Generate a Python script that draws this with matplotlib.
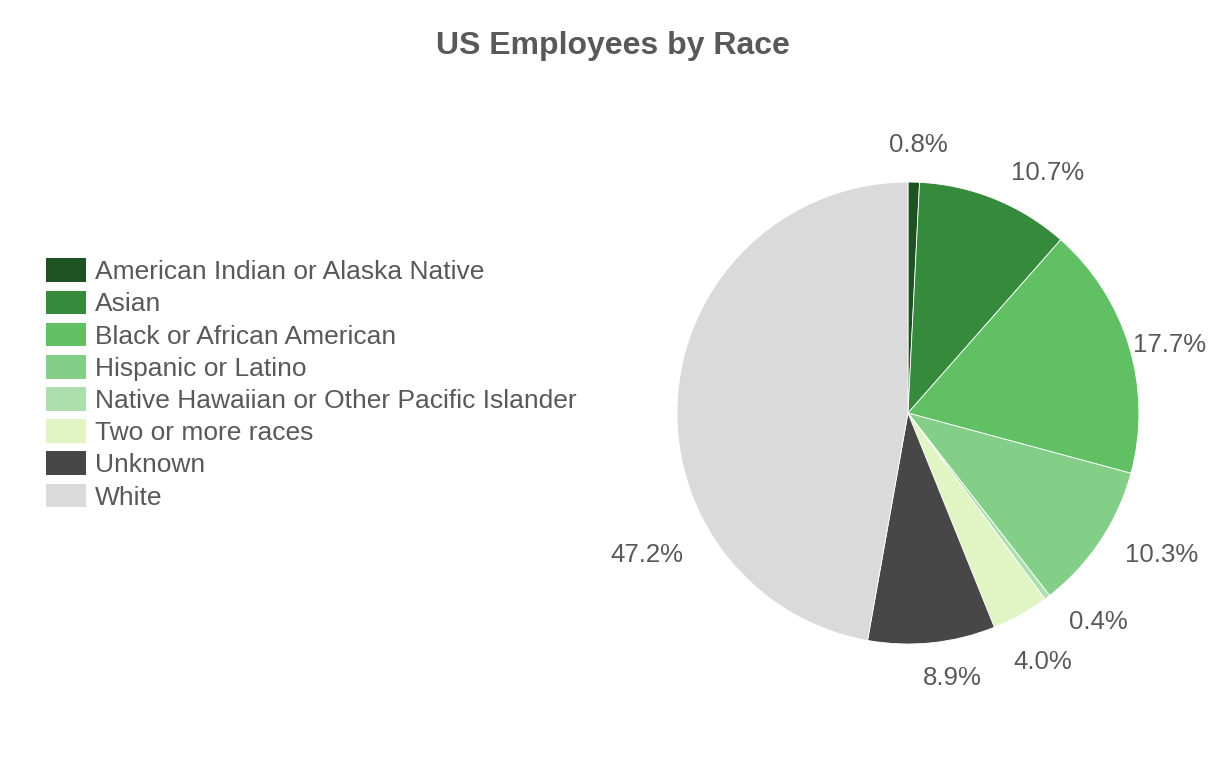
import numpy as np
import matplotlib as mpl
import matplotlib.pyplot as plt

# data
races = ['American Indian or Alaska Native', 'Asian', 'Black or African American',
         'Hispanic or Latino', 'Native Hawaiian or Other Pacific Islander',
         'Two or more races', 'Unknown', 'White']
shares = [0.8, 10.7, 17.7, 10.3, 0.4, 4.0, 8.9, 47.2]
colors = ['#1f5223', '#358a3c', '#61c064', '#84cf88', '#acdfac', '#e0f4c4', '#474747', '#dadada']

# label positions (pie radius units), Google-chart style placement
label_xy = [(0.043, 1.160), (0.606, 1.040), (1.134, 0.294), (1.100, -0.615),
            (0.823, -0.905), (0.584, -1.078), (0.190, -1.147), (-1.130, -0.615)]

txt_color = '#595959'
plt.rcParams['font.family'] = ['Liberation Sans', 'DejaVu Sans']

fig = plt.figure(figsize=(12.26, 7.6), dpi=100)
ax = fig.add_axes([0.5522, 0.1526, 0.3768, 0.6079])

wedges, _ = ax.pie(shares, colors=colors, startangle=90, counterclock=False,
                   radius=1.0, wedgeprops=dict(edgecolor='white', linewidth=0.6))
ax.set_xlim(-1, 1)
ax.set_ylim(-1, 1)
ax.set_aspect('equal')
ax.axis('off')

for val, (x, y) in zip(shares, label_xy):
    ax.text(x, y, '%.1f%%' % val, ha='center', va='center', fontsize=18.6,
            color=txt_color, clip_on=False)

fig.text(0.5, 0.939, 'US Employees by Race', ha='center', va='center',
         fontsize=23, fontweight='bold', color=txt_color)

leg = fig.legend(wedges, races, loc='upper left', bbox_to_anchor=(0.0377, 0.660),
                 frameon=False, fontsize=19, handlelength=1.52, handleheight=1.0,
                 handletextpad=0.34, labelspacing=0.24, borderaxespad=0, borderpad=0)
for t in leg.get_texts():
    t.set_color(txt_color)
for h in leg.legend_handles:
    h.set_edgecolor('none')

plt.savefig('out.png', dpi=100)
